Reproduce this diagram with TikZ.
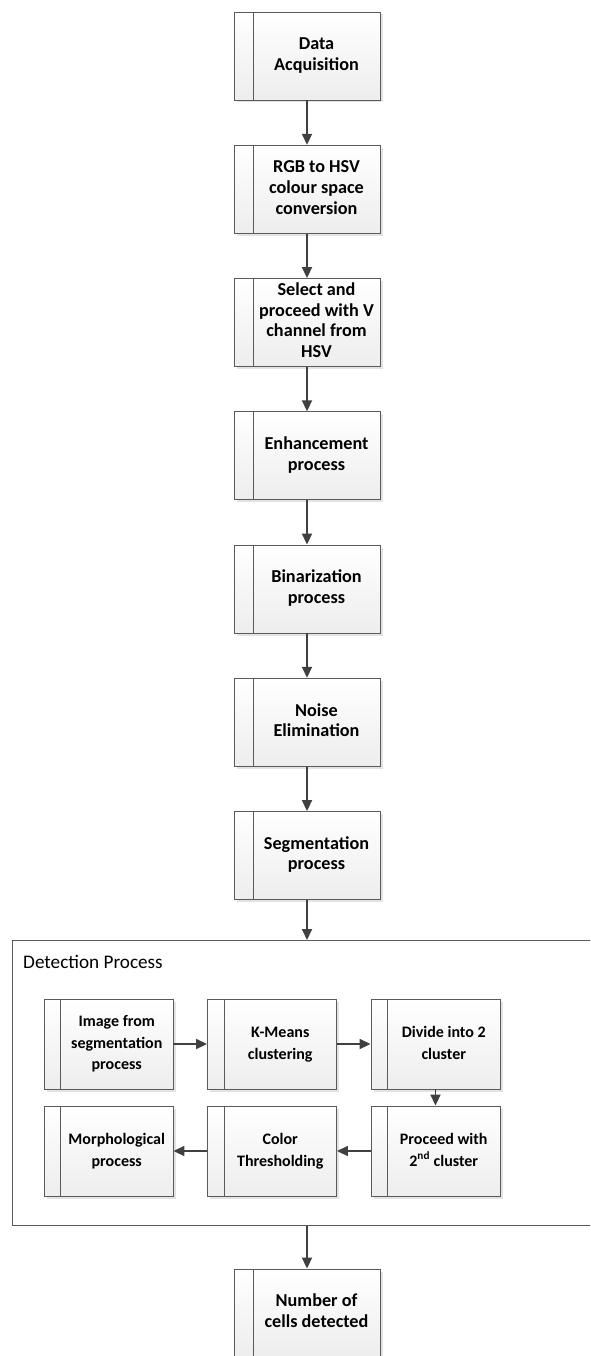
\documentclass[tikz,border=0pt]{standalone}
\usepackage{fontspec}
\setmainfont{Carlito}
\usetikzlibrary{arrows.meta,shadows}
\definecolor{bordc}{HTML}{5A5A5A}
\definecolor{arrc}{HTML}{404040}
\newcommand{\bxt}[2]{\hspace*{#1}\begin{tabular}{@{}c@{}}#2\end{tabular}}
\begin{document}
\begin{tikzpicture}[x=1pt,y=-1pt,
  boxbase/.style={draw=bordc, line width=0.9pt, top color=white, bottom color=gray!14,
    inner sep=0pt,
    drop shadow={shadow xshift=2.5pt, shadow yshift=-2.5pt, fill=gray!22, opacity=1}},
  procbox/.style={boxbase, minimum width=146pt, minimum height=88pt,
    font=\bfseries\fontsize{18.2}{20.7}\selectfont,
    path picture={\draw[bordc, line width=0.9pt] ([xshift=19pt]path picture bounding box.north west) -- ([xshift=19pt]path picture bounding box.south west);}},
  subbox/.style={boxbase, minimum width=129pt, minimum height=90pt,
    font=\bfseries\fontsize{16}{21.5}\selectfont,
    path picture={\draw[bordc, line width=0.9pt] ([xshift=16.5pt]path picture bounding box.north west) -- ([xshift=16.5pt]path picture bounding box.south west);}},
  flow/.style={draw=arrc, line width=1.8pt, -{Triangle[length=11pt,width=10pt]}}]
\clip (0,0) rectangle (590,1356);
\fill[white] (0,0) rectangle (590,1356);

\node[procbox] (b1) at (307,56)     {\bxt{19pt}{Data\\Acquisition}};
\node[procbox] (b2) at (307,189.25) {\bxt{19pt}{RGB to HSV\\colour space\\conversion}};
\node[procbox] (b3) at (307,322.5)  {\bxt{19pt}{Select and\\proceed with V\\channel from\\HSV}};
\node[procbox] (b4) at (307,455.75) {\bxt{19pt}{Enhancement\\process}};
\node[procbox] (b5) at (307,589)    {\bxt{19pt}{Binarization\\process}};
\node[procbox] (b6) at (307,722.25) {\bxt{19pt}{Noise\\Elimination}};
\node[procbox] (b7) at (307,855.5)  {\bxt{19pt}{Segmentation\\process}};

\node[draw=bordc, line width=0.9pt, minimum width=600pt, minimum height=285pt, inner sep=0pt, anchor=north west] (det) at (12,940) {};
\node[anchor=west, font=\fontsize{19.2}{23}\selectfont, inner sep=0pt] (detl) at (23,962) {Detection Process};

\node[subbox] (sa) at (108.5,1044) {\bxt{16.5pt}{Image from\\segmentation\\process}};
\node[subbox] (sb) at (272,1044)   {\bxt{16.5pt}{K-Means\\clustering}};
\node[subbox] (sc) at (435.5,1044) {\bxt{16.5pt}{Divide into 2\\cluster}};
\node[subbox] (sd) at (435.5,1151) {\bxt{16.5pt}{Proceed with\\2\textsuperscript{nd} cluster}};
\node[subbox] (se) at (272,1151)   {\bxt{16.5pt}{Color\\Thresholding}};
\node[subbox] (sf) at (108.5,1151) {\bxt{16.5pt}{Morphological\\process}};

\node[procbox] (b8) at (307,1313) {\bxt{19pt}{Number of\\cells detected}};

\draw[flow] (b1) -- (b2);
\draw[flow] (b2) -- (b3);
\draw[flow] (b3) -- (b4);
\draw[flow] (b4) -- (b5);
\draw[flow] (b5) -- (b6);
\draw[flow] (b6) -- (b7);
\draw[flow] (b7.south) -- (b7.south |- det.north);
\draw[flow] (b8.north |- det.south) -- (b8.north);

\draw[flow] (sa) -- (sb);
\draw[flow] (sb) -- (sc);
\draw[flow] (sc) -- (sd);
\draw[flow] (sd) -- (se);
\draw[flow] (se) -- (sf);
\end{tikzpicture}
\end{document}
